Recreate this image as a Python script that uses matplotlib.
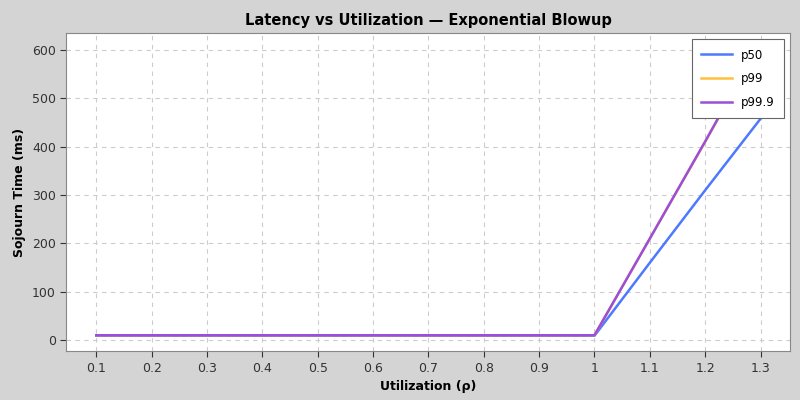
import matplotlib
matplotlib.use("Agg")
import matplotlib.pyplot as plt

util = [0.1, 0.2, 0.3, 0.4, 0.5, 0.6, 0.7, 0.8, 0.9, 1.0, 1.1, 1.2, 1.3]
p50 = [9, 9, 9, 9, 9, 9, 9, 9, 9, 9, 160, 310, 458]
p99 = [10, 10, 10, 10, 10, 10, 10, 10, 10, 10, 210, 410, 615]
p999 = [10, 10, 10, 10, 10, 10, 10, 10, 10, 10, 210, 411, 616]
xticks = [0.1, 0.2, 0.3, 0.4, 0.5, 0.6, 0.7, 0.8, 0.9, 1.0, 1.1, 1.2, 1.3]
xtick_labels = ["0.1", "0.2", "0.3", "0.4", "0.5", "0.6", "0.7", "0.8", "0.9", "1", "1.1", "1.2", "1.3"]

fig = plt.figure(figsize=(8, 4), dpi=100, facecolor="#d4d4d4")
ax = fig.add_axes([0.083, 0.122, 0.905, 0.795])
ax.set_facecolor("white")

ax.plot(util, p50, color="#4d79ff", linewidth=1.8, label="p50")
ax.plot(util, p99, color="#ffc03d", linewidth=1.8, label="p99")
ax.plot(util, p999, color="#9b4ddb", linewidth=1.8, label="p99.9")

ax.set_xlim(0.046, 1.354)
ax.set_ylim(-23, 635)
ax.set_xticks(xticks)
ax.set_xticklabels(xtick_labels)
ax.set_yticks([0, 100, 200, 300, 400, 500, 600])
ax.grid(True, color="#cccccc", linestyle=(0, (4, 4)), linewidth=0.8)
for s in ax.spines.values():
    s.set_color("#888888")
ax.tick_params(labelsize=9, colors="#333333", length=4)

ax.set_title("Latency vs Utilization — Exponential Blowup", fontsize=10.5, fontweight="bold", pad=6)
ax.set_xlabel("Utilization (ρ)", fontsize=9, fontweight="bold")
ax.set_ylabel("Sojourn Time (ms)", fontsize=9, fontweight="bold")

leg = ax.legend(loc="upper right", fontsize=8.5, fancybox=False, framealpha=1,
                edgecolor="#666666", borderpad=0.8, labelspacing=0.9, handlelength=2.6)
leg.get_frame().set_linewidth(0.8)

fig.savefig("out.png", dpi=100, facecolor=fig.get_facecolor())
